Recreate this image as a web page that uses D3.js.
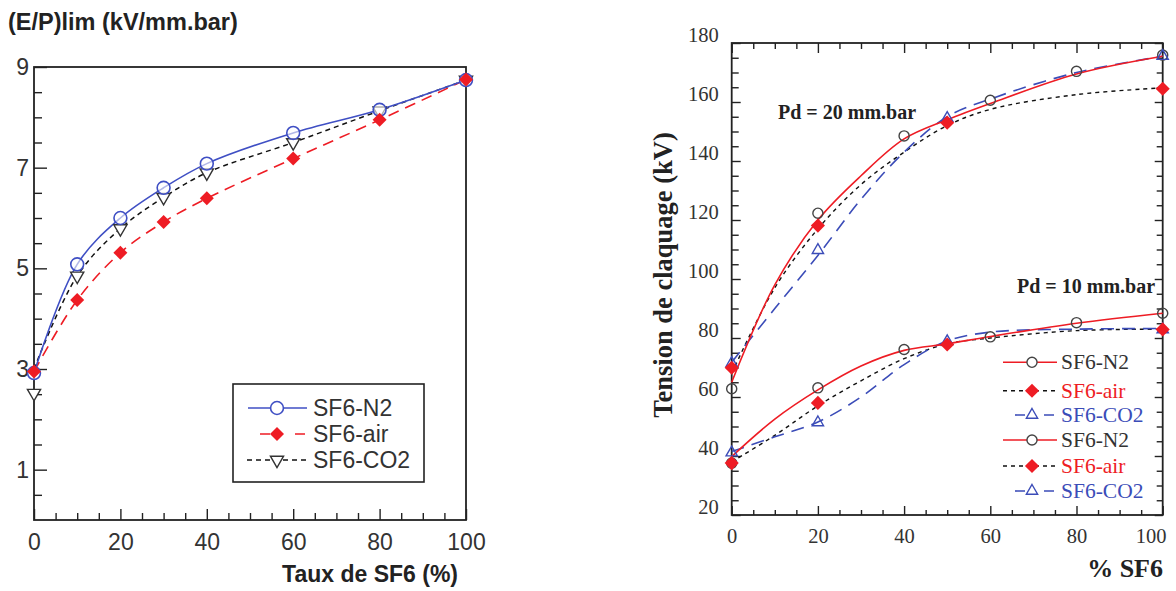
<!DOCTYPE html>
<html>
<head>
<meta charset="utf-8">
<script src="https://cdn.jsdelivr.net/npm/d3@7"></script>
<style>
  html, body { margin: 0; padding: 0; background: #fff; }
  svg { display: block; }
</style>
</head>
<body>
<svg id="chart" width="1176" height="591"></svg>
<script>
// ---------------- DATA ----------------
// Left chart: (E/P)lim vs SF6 content
const leftX = [0, 10, 20, 30, 40, 60, 80, 100];
const leftN2 = [2.92, 5.08, 6.0, 6.6, 7.08, 7.69, 8.15, 8.74];
const leftAir = [2.95, 4.37, 5.31, 5.92, 6.39, 7.18, 7.95, 8.75];
const leftCO2 = [2.52, 4.85, 5.79, 6.41, 6.9, 7.5, 8.13, 8.74];
const leftCO2Fit = [3.0, 4.85, 5.79, 6.41, 6.9, 7.5, 8.13, 8.74];
const leftYTickLabels = [1, 3, 5, 7, 9];
const leftXTickLabels = [0, 20, 40, 60, 80, 100];
const leftLegend = ["SF6-N2", "SF6-air", "SF6-CO2"];

// Right chart: breakdown voltage vs % SF6
const n2X = [0, 20, 40, 60, 80, 100];
const n2Pd20 = [62.8, 122.3, 148.5, 160.6, 170.4, 175.9];
const n2Pd10 = [37.6, 63.1, 76.1, 80.4, 85.2, 88.4];
const mixX = [0, 20, 50, 100];
const airPd20 = [69.9, 118.1, 153, 164.5];
const airPd10 = [37.6, 58.0, 77.8, 82.9];
const co2Pd20 = [71.8, 110.1, 154.9, 175.9];
const co2Pd10 = [41.5, 51.7, 79.2, 83.2];
const fitX = [0, 10, 20, 30, 40, 50, 60, 80, 100];
const n2Pd20Fit = [65, 98, 120, 135, 147.5, 154, 159.5, 169.5, 175.5];
const airPd20Fit = [68, 97, 117, 132, 143, 152, 157.5, 162.5, 164.8];
const co2Pd20Fit = [71.8, 90, 108, 127, 143, 155, 161, 170, 175.5];
const n2Pd10Fit = [39.8, 52.5, 62.4, 70.5, 75.8, 78, 80.5, 85, 88.4];
const airPd10Fit = [38, 47, 57, 65.5, 73, 78, 80, 82.5, 83];
const co2Pd10Fit = [41.5, 46.5, 51.5, 60, 71, 79, 82, 83, 83.2];
const rightYTickLabels = [20, 40, 60, 80, 100, 120, 140, 160, 180];
const rightXTickLabels = [0, 20, 40, 60, 80, 100];
const rightLegend = ["SF6-N2", "SF6-air", "SF6-CO2", "SF6-N2", "SF6-air", "SF6-CO2"];

// ---------------- DRAW ----------------
const svg = d3.select("#chart");
svg.append("rect").attr("width", 1176).attr("height", 591).attr("fill", "#fff");

const SANS = "'Liberation Sans', Arial, sans-serif";
const SERIF = "'Liberation Serif', 'Times New Roman', serif";
const BLUE_L = "#3f4fc4", RED = "#ee1c24", BLUE_R = "#3b4cb8";

function pts(xs, ys) { return xs.map((x, i) => [x, ys[i]]); }

function axis(g, gen, values, size, label, font, fs, pad) {
  const a = gen.tickValues(values).tickSize(size).tickPadding(pad || 3);
  if (!label) a.tickFormat(() => "");
  g.call(a);
  g.select(".domain").remove();
  g.selectAll(".tick line").attr("stroke", "#222").attr("stroke-width", 1.4);
  g.selectAll(".tick text").attr("fill", "#333").style("font-family", font).style("font-size", fs + "px");
}

// ===== LEFT CHART =====
const xL = d3.scaleLinear().domain([0, 100]).range([34, 466]);
const yL = d3.scaleLinear().domain([0, 9]).range([520, 67]);
const L = svg.append("g");

const minorYL = d3.range(0.5, 9, 0.5).filter(v => !leftYTickLabels.includes(v));
axis(L.append("g").attr("transform", `translate(${xL(0)},0)`), d3.axisLeft(yL), minorYL, -8, false, SANS, 23);
axis(L.append("g").attr("transform", `translate(${xL(0)},0)`), d3.axisLeft(yL), leftYTickLabels, -13, true, SANS, 23, 5);
const minorXL = d3.range(5, 100, 5).filter(v => !leftXTickLabels.includes(v));
axis(L.append("g").attr("transform", `translate(0,${yL(0)})`), d3.axisBottom(xL), minorXL, -7, false, SANS, 23);
axis(L.append("g").attr("transform", `translate(0,${yL(0)})`), d3.axisBottom(xL), leftXTickLabels, -11, true, SANS, 23, 14);

L.append("rect").attr("x", xL(0)).attr("y", yL(9)).attr("width", xL(100) - xL(0)).attr("height", yL(0) - yL(9))
  .attr("fill", "none").attr("stroke", "#222").attr("stroke-width", 1.8);

const lineL = d3.line().x(d => xL(d[0])).y(d => yL(d[1])).curve(d3.curveCatmullRom.alpha(0.5));
L.append("path").attr("d", lineL(pts(leftX, leftCO2Fit))).attr("fill", "none").attr("stroke", "#111")
  .attr("stroke-width", 1.5).attr("stroke-dasharray", "5,4");
L.append("path").attr("d", lineL(pts(leftX, leftAir))).attr("fill", "none").attr("stroke", RED)
  .attr("stroke-width", 1.6).attr("stroke-dasharray", "11,7");
L.append("path").attr("d", lineL(pts(leftX, leftN2))).attr("fill", "none").attr("stroke", BLUE_L)
  .attr("stroke-width", 1.6);

const circL = d3.symbol(d3.symbolCircle, 130);
const sqL = d3.symbol(d3.symbolSquare, 98);
const triL = d3.symbol(d3.symbolTriangle, 75);

L.append("g").selectAll("path").data(pts(leftX, leftCO2)).join("path")
  .attr("d", triL).attr("transform", d => `translate(${xL(d[0])},${yL(d[1])}) rotate(180)`)
  .attr("fill", "#fff").attr("stroke", "#333").attr("stroke-width", 1.4);
L.append("g").selectAll("path").data(pts(leftX, leftN2)).join("path")
  .attr("d", circL).attr("transform", d => `translate(${xL(d[0])},${yL(d[1])})`)
  .attr("fill", "#fff").attr("fill-opacity", 0.6).attr("stroke", BLUE_L).attr("stroke-width", 1.6);
L.append("g").selectAll("path").data(pts(leftX, leftAir)).join("path")
  .attr("d", sqL).attr("transform", d => `translate(${xL(d[0])},${yL(d[1])}) rotate(45)`)
  .attr("fill", RED);

// axis titles
L.append("text").attr("x", 8).attr("y", 30).text("(E/P)lim (kV/mm.bar)")
  .style("font-family", SANS).style("font-size", "23.5px").style("font-weight", "bold").attr("fill", "#222");
L.append("text").attr("x", 458).attr("y", 582).attr("text-anchor", "end").text("Taux de SF6 (%)")
  .style("font-family", SANS).style("font-size", "23px").style("font-weight", "bold").attr("fill", "#222");

// legend
L.append("rect").attr("x", 233).attr("y", 384).attr("width", 191).attr("height", 98)
  .attr("fill", "#fff").attr("stroke", "#222").attr("stroke-width", 1.6);
const legYL = [408, 434, 460];
const lg = L.append("g");
lg.append("line").attr("x1", 248).attr("x2", 307).attr("y1", legYL[0]).attr("y2", legYL[0]).attr("stroke", BLUE_L).attr("stroke-width", 1.6);
lg.append("path").attr("d", circL).attr("transform", `translate(277,${legYL[0]})`).attr("fill", "#fff").attr("stroke", BLUE_L).attr("stroke-width", 1.6);
lg.append("line").attr("x1", 260).attr("x2", 305).attr("y1", legYL[1]).attr("y2", legYL[1]).attr("stroke", RED).attr("stroke-width", 1.6).attr("stroke-dasharray", "10,25");
lg.append("path").attr("d", sqL).attr("transform", `translate(277,${legYL[1]}) rotate(45)`).attr("fill", RED);
lg.append("line").attr("x1", 247).attr("x2", 308).attr("y1", legYL[2]).attr("y2", legYL[2]).attr("stroke", "#111").attr("stroke-width", 1.5).attr("stroke-dasharray", "5,4");
lg.append("path").attr("d", triL).attr("transform", `translate(277,${legYL[2]}) rotate(180)`).attr("fill", "#fff").attr("stroke", "#333").attr("stroke-width", 1.4);
lg.selectAll("text").data(leftLegend).join("text")
  .attr("x", 313).attr("y", (d, i) => legYL[i] + 8).text(d => d)
  .style("font-family", SANS).style("font-size", "23px").attr("fill", "#333");

// ===== RIGHT CHART =====
const xR = d3.scaleLinear().domain([0, 100]).range([731.7, 1162.7]);
const yR = d3.scaleLinear().domain([20, 180]).range([515, 43]);
const R = svg.append("g");

const minorYR = d3.range(25, 180, 5).filter(v => !rightYTickLabels.includes(v));
const minorXR = d3.range(5, 100, 5).filter(v => !rightXTickLabels.includes(v));
axis(R.append("g").attr("transform", `translate(${xR(0)},0)`), d3.axisLeft(yR), minorYR, -7, false, SERIF, 20);
const gyl = R.append("g").attr("transform", `translate(${xR(0)},0)`);
axis(gyl, d3.axisLeft(yR), rightYTickLabels, -9, true, SERIF, 20.5, 13);
gyl.selectAll(".tick text").attr("dy", "-0.05em");
axis(R.append("g").attr("transform", `translate(${xR(100)},0)`), d3.axisRight(yR), minorYR, -6, false, SERIF, 20);
axis(R.append("g").attr("transform", `translate(${xR(100)},0)`), d3.axisRight(yR), rightYTickLabels, -8, false, SERIF, 20);
axis(R.append("g").attr("transform", `translate(0,${yR(20)})`), d3.axisBottom(xR), minorXR, -5, false, SERIF, 20);
const gxb = R.append("g").attr("transform", `translate(0,${yR(20)})`);
axis(gxb, d3.axisBottom(xR), rightXTickLabels, -9, true, SERIF, 20.5, 13);
gxb.selectAll(".tick text").filter(d => d === 100).attr("dx", "-12");
axis(R.append("g").attr("transform", `translate(0,${yR(180)})`), d3.axisTop(xR), minorXR, -6, false, SERIF, 20);
axis(R.append("g").attr("transform", `translate(0,${yR(180)})`), d3.axisTop(xR), rightXTickLabels, -10, false, SERIF, 20);

R.append("rect").attr("x", xR(0)).attr("y", yR(180)).attr("width", xR(100) - xR(0)).attr("height", yR(20) - yR(180))
  .attr("fill", "none").attr("stroke", "#222").attr("stroke-width", 1.8);

const lineR = d3.line().x(d => xR(d[0])).y(d => yR(d[1])).curve(d3.curveCatmullRom.alpha(0.5));
function rLine(ys, color, dash, w) {
  R.append("path").attr("d", lineR(pts(fitX, ys))).attr("fill", "none").attr("stroke", color)
    .attr("stroke-width", w).attr("stroke-dasharray", dash);
}
rLine(airPd20Fit, "#111", "4,4", 1.4);
rLine(airPd10Fit, "#111", "4,4", 1.4);
rLine(co2Pd20Fit, BLUE_R, "13,8", 1.6);
rLine(co2Pd10Fit, BLUE_R, "13,8", 1.6);
rLine(n2Pd20Fit, RED, null, 1.6);
rLine(n2Pd10Fit, RED, null, 1.6);

const circR = d3.symbol(d3.symbolCircle, 80);
const sqR = d3.symbol(d3.symbolSquare, 100);
const triR = d3.symbol(d3.symbolTriangle, 55);

function circles(xs, ys) {
  R.append("g").selectAll("path").data(pts(xs, ys)).join("path").attr("d", circR)
    .attr("transform", d => `translate(${xR(d[0])},${yR(d[1])})`)
    .attr("fill", "none").attr("stroke", "#444").attr("stroke-width", 1.4);
}
function tris(xs, ys) {
  R.append("g").selectAll("path").data(pts(xs, ys)).join("path").attr("d", triR)
    .attr("transform", d => `translate(${xR(d[0])},${yR(d[1]) + 1})`)
    .attr("fill", "none").attr("stroke", BLUE_R).attr("stroke-width", 1.4);
}
function diamonds(xs, ys) {
  R.append("g").selectAll("path").data(pts(xs, ys)).join("path").attr("d", sqR)
    .attr("transform", d => `translate(${xR(d[0])},${yR(d[1])}) rotate(45)`)
    .attr("fill", RED);
}
circles(n2X, n2Pd20); circles(n2X, n2Pd10);
tris(mixX, co2Pd20); tris(mixX, co2Pd10);
diamonds(mixX, airPd20); diamonds(mixX, airPd10);

// annotations and titles
R.append("text").attr("x", 778).attr("y", 119).text("Pd = 20 mm.bar")
  .style("font-family", SERIF).style("font-size", "20px").style("font-weight", "bold").attr("fill", "#222");
R.append("text").attr("x", 1017).attr("y", 293).text("Pd = 10 mm.bar")
  .style("font-family", SERIF).style("font-size", "20px").style("font-weight", "bold").attr("fill", "#222");
R.append("text").attr("transform", "translate(663,275) rotate(-90)").attr("text-anchor", "middle")
  .attr("dominant-baseline", "central").text("Tension de claquage (kV)")
  .style("font-family", SERIF).style("font-size", "26.5px").style("font-weight", "bold").attr("fill", "#222");
R.append("text").attr("x", 1163).attr("y", 577).attr("text-anchor", "end").text("% SF6")
  .style("font-family", SERIF).style("font-size", "26px").style("font-weight", "bold").attr("fill", "#222");

// legend
const legYR = [362.3, 390.7, 415, 440, 466, 491];
const legColors = ["#333", RED, BLUE_R];
const rl = R.append("g");
legYR.forEach((y, i) => {
  const k = i % 3;
  if (k === 0) {
    rl.append("line").attr("x1", 1003).attr("x2", 1057).attr("y1", y).attr("y2", y).attr("stroke", RED).attr("stroke-width", 1.6);
    rl.append("path").attr("d", circR).attr("transform", `translate(1032,${y})`).attr("fill", "#fff").attr("stroke", "#444").attr("stroke-width", 1.4);
  } else if (k === 1) {
    rl.append("line").attr("x1", 1003).attr("x2", 1057).attr("y1", y).attr("y2", y).attr("stroke", "#111").attr("stroke-width", 1.4).attr("stroke-dasharray", "4,4");
    rl.append("path").attr("d", sqR).attr("transform", `translate(1032,${y}) rotate(45)`).attr("fill", RED);
  } else {
    rl.append("line").attr("x1", 1015).attr("x2", 1054).attr("y1", y).attr("y2", y).attr("stroke", BLUE_R).attr("stroke-width", 1.6).attr("stroke-dasharray", "10,19");
    rl.append("path").attr("d", triR).attr("transform", `translate(1032,${y})`).attr("fill", "#fff").attr("stroke", BLUE_R).attr("stroke-width", 1.4);
  }
  rl.append("text").attr("x", 1061).attr("y", y + 7).text(rightLegend[i])
    .style("font-family", SERIF).style("font-size", "21.5px").attr("fill", legColors[k]);
});
</script>
</body>
</html>
